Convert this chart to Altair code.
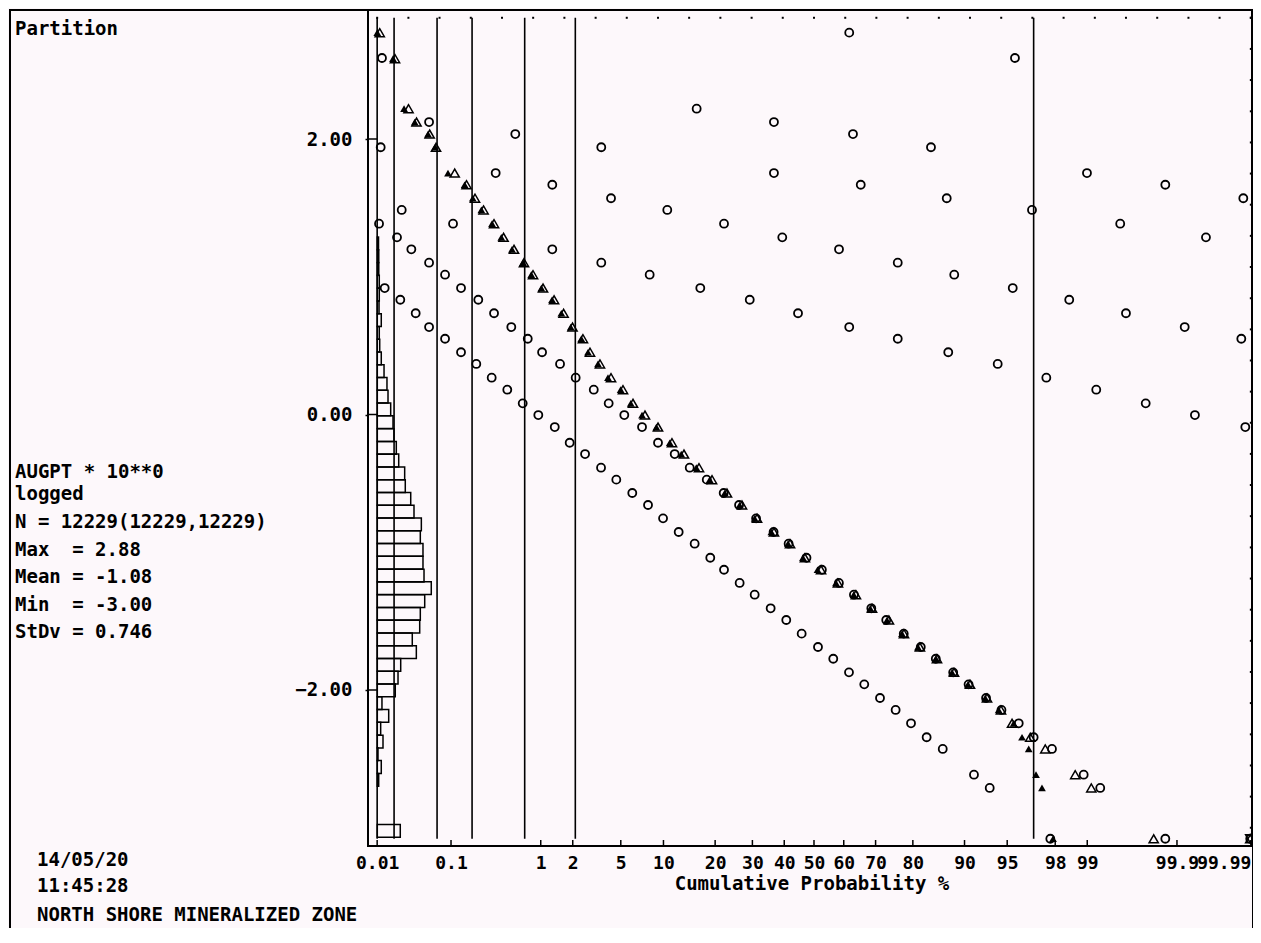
import altair as alt
import pandas as pd
from statistics import NormalDist

# ---------------- axis ticks ----------------
prob_ticks = [0.01, 0.1, 1, 2, 5, 10, 20, 30, 40, 50, 60, 70, 80, 90, 95, 98, 99, 99.9, 99.99]
prob_labels = ["0.01", "0.1", "1", "2", "5", "10", "20", "30", "40", "50", "60", "70",
               "80", "90", "95", "98", "99", "99.9", "99.99"]
y_ticks = [-2.0, 0.0, 2.0]

# x is the normal score of the cumulative probability, y the logged value
# ---------------- observed cumulative curve (filled triangles) ----------------
obs_z = [-3.718, -3.584, -3.490, -3.399, -3.286, -3.226, -3.116, -2.974, -2.905, -2.832,
         -2.741, -2.662, -2.571, -2.477, -2.407, -2.321, -2.230, -2.151, -2.071, -1.981,
         -1.924, -1.839, -1.754, -1.646, -1.560, -1.464, -1.342, -1.228, -1.130, -1.002,
         -0.888, -0.760, -0.633, -0.505, -0.363, -0.221, -0.094, 0.030, 0.187, 0.338,
         0.479, 0.621, 0.749, 0.885, 1.039, 1.175, 1.311, 1.458, 1.572, 1.700,
         1.771, 1.828, 1.890, 1.941, 2.035]
obs_v = [2.772, 2.583, 2.220, 2.123, 2.036, 1.940, 1.753, 1.668, 1.570, 1.485,
         1.385, 1.286, 1.199, 1.102, 1.015, 0.918, 0.833, 0.735, 0.635, 0.550,
         0.452, 0.367, 0.267, 0.180, 0.081, -0.004, -0.091, -0.205, -0.287, -0.386,
         -0.473, -0.570, -0.657, -0.754, -0.853, -0.938, -1.040, -1.127, -1.223, -1.308,
         -1.407, -1.492, -1.591, -1.688, -1.773, -1.872, -1.959, -2.058, -2.145, -2.242,
         -2.343, -2.428, -2.615, -2.711, -3.080]

# ---------------- fitted mixture curve (open triangles) ----------------
model_z = [-3.697, -3.567, -3.452, -3.384, -3.272, -3.218, -3.059, -2.958, -2.886, -2.813,
           -2.724, -2.643, -2.554, -2.469, -2.392, -2.307, -2.213, -2.132, -2.056, -1.967,
           -1.907, -1.822, -1.728, -1.626, -1.541, -1.439, -1.328, -1.209, -1.107, -0.979,
           -0.868, -0.741, -0.613, -0.485, -0.341, -0.204, -0.077, 0.060, 0.204, 0.357,
           0.494, 0.638, 0.766, 0.902, 1.047, 1.192, 1.328, 1.473, 1.592, 1.686,
           1.841, 1.969, 2.224, 2.361, 2.892]
model_v = obs_v

# ---------------- partition populations (open circles) ----------------
popA_z = [-3.655, -3.522, -3.391, -3.277, -3.141, -3.005, -2.875, -2.744, -2.611, -2.480,
          -2.347, -2.207, -2.080, -1.949, -1.813, -1.683, -1.547, -1.413, -1.285, -1.152,
          -1.016, -0.883, -0.766, -0.633, -0.505, -0.369, -0.236, -0.105, 0.034, 0.164,
          0.298, 0.428, 0.562, 0.695, 0.826, 0.959, 1.096, 1.362, 1.496, 2.012]
popA_v = [0.918, 0.833, 0.735, 0.635, 0.550, 0.452, 0.367, 0.267, 0.180, 0.081,
          -0.004, -0.091, -0.205, -0.287, -0.386, -0.473, -0.570, -0.657, -0.754, -0.853,
          -0.938, -1.040, -1.127, -1.223, -1.308, -1.407, -1.492, -1.591, -1.688, -1.773,
          -1.872, -1.959, -2.058, -2.145, -2.242, -2.343, -2.428, -2.615, -2.711, -3.080]
popB_z = [-3.703, -3.550, -3.428, -3.277, -3.141, -3.005, -2.858, -2.724, -2.577, -2.437,
          -2.315, -2.162, -2.029, -1.875, -1.748, -1.615, -1.464, -1.328, -1.186, -1.058,
          -0.913, -0.769, -0.638, -0.493, -0.344, -0.216, -0.064, 0.067, 0.212, 0.340,
          0.488, 0.615, 0.764, 0.909, 1.037, 1.185, 1.316, 1.465, 1.596, 1.743,
          1.870, 2.026, 2.296, 2.437, 2.991]
popB_v = [1.385, 1.286, 1.199, 1.102, 1.015, 0.918, 0.833, 0.735, 0.635, 0.550,
          0.452, 0.367, 0.267, 0.180, 0.081, -0.004, -0.091, -0.205, -0.287, -0.386,
          -0.473, -0.570, -0.657, -0.754, -0.853, -0.938, -1.040, -1.127, -1.223, -1.308,
          -1.407, -1.492, -1.591, -1.688, -1.773, -1.872, -1.959, -2.058, -2.145, -2.242,
          -2.343, -2.428, -2.615, -2.711, -3.080]
popC_z = [-3.689, -2.710, -2.228, -1.728, -1.249, -0.766, -0.270, 0.213, 0.713, 1.194,
          1.692, 2.173, 2.656, 3.156, 3.638]
popC_v = [1.940, 1.753, 1.668, 1.570, 1.485, 1.385, 1.286, 1.199, 1.102, 1.015,
          0.918, 0.833, 0.735, 0.635, 0.550]
popD_z = [-3.510, -3.073, -2.228, -1.811, -1.399, -0.968, -0.547, -0.136, 0.300, 0.713,
          1.143, 1.564, 1.978, 2.403, 2.824, 3.243, 3.672]
popD_v = [1.485, 1.385, 1.199, 1.102, 1.015, 0.918, 0.833, 0.735, 0.635, 0.550,
          0.452, 0.367, 0.267, 0.180, 0.081, -0.004, -0.091]
popE_z = [-3.277, -2.543, -1.811, -0.341, 0.398, 1.130, 1.856, 2.607, 3.337]
popE_v = [2.123, 2.036, 1.940, 1.753, 1.668, 1.570, 1.485, 1.385, 1.286]
popF_z = [-0.999, -0.341, 0.332, 0.996, 2.324, 2.991, 3.655]
popF_v = [2.220, 2.123, 2.036, 1.940, 1.753, 1.668, 1.570]
popG_z = [0.300, 1.711, -3.678, 3.714]
popG_v = [2.772, 2.588, 2.588, -3.080]

star_z = [3.714]
star_v = [-3.080]

# ---------------- partition thresholds (vertical lines) ----------------
partition_z = [-3.719, -3.575, -3.209, -2.911, -2.463, -2.032, 1.870]
line_top = 2.88
line_bottom = -3.08

# ---------------- histogram (frequency %) ----------------
hist_center = [1.242, 1.149, 1.056, 0.964, 0.871, 0.778, 0.685, 0.593, 0.500, 0.407,
               0.315, 0.222, 0.129, 0.037, -0.056, -0.149, -0.242, -0.334, -0.427, -0.520,
               -0.612, -0.705, -0.798, -0.891, -0.983, -1.076, -1.169, -1.261, -1.354, -1.447,
               -1.539, -1.632, -1.725, -1.818, -1.910, -2.003, -2.096, -2.188, -2.281, -2.374,
               -2.466, -2.559, -2.652, -3.023]
hist_freq = [0.14, 0.17, 0.17, 0.23, 0.23, 0.20, 0.46, 0.23, 0.28, 0.46,
             0.78, 1.12, 1.24, 1.55, 1.82, 1.93, 2.20, 2.48, 3.17, 3.24,
             3.87, 4.25, 5.10, 4.98, 5.29, 5.29, 5.41, 6.25, 5.49, 4.98,
             4.91, 4.05, 4.52, 2.71, 2.40, 2.08, 0.54, 1.32, 0.39, 0.66,
             0.08, 0.46, 0.16, 2.66]
HIST_BIN = 0.0927

# ---------------- grid markers along the top and right edges ----------------
grid_top_z = [-3.719, -3.453, -3.188, -2.922, -2.656, -2.391, -2.125, -1.859, -1.594, -1.328,
              -1.063, -0.797, -0.531, -0.266, 0.0, 0.266, 0.531, 0.797, 1.063, 1.328,
              1.594, 1.859, 2.125, 2.391, 2.656, 2.922, 3.188, 3.453, 3.719]
grid_right_v = [2.880, 2.654, 2.428, 2.201, 1.975, 1.749, 1.523, 1.297, 1.071, 0.844,
                0.618, 0.392, 0.166, -0.060, -0.286, -0.512, -0.738, -0.965, -1.191, -1.417,
                -1.643, -1.869, -2.095, -2.322, -2.548, -2.774, -3.000]

# ---------------- texts ----------------
title_text = ["Partition"]
var_text = ["AUGPT * 10**0", "logged"]
stats_text = ["N = 12229(12229,12229)", "Max \u00a0= 2.88", "Mean = -1.08",
              "Min \u00a0= -3.00", "StDv = 0.746"]
date_text = ["14/05/20", "11:45:28"]
zone_text = ["NORTH SHORE MINERALIZED ZONE"]
x_title = ["Cumulative Probability %"]

# ---------------- layout ----------------
W, H = 884, 836
FONT = "DejaVu Sans Mono"
FS = 19
FS_TICK = 18
BG = "#fdf8fb"

tick_z = [NormalDist().inv_cdf(p / 100.0) for p in prob_ticks]
xs = alt.Scale(domain=[-3.797, 3.729], nice=False, zero=False)
ys = alt.Scale(domain=[-3.1325, 2.9365], nice=False, zero=False)

label_expr = ""
for i in range(len(tick_z) - 1):
    mid = (tick_z[i] + tick_z[i + 1]) / 2
    label_expr += f"datum.value < {mid:.4f} ? '{prob_labels[i]}' : "
label_expr += f"'{prob_labels[-1]}'"

x_axis = alt.Axis(values=tick_z, labelExpr=label_expr, ticks=False, tickSize=0, domain=False,
                  grid=False, labelFont=FONT, labelFontSize=FS_TICK, labelFontWeight="bold",
                  labelColor="black", labelPadding=8, labelFlush=6, labelOverlap=False, title=None)
y_axis = alt.Axis(values=y_ticks, format=".2f", ticks=True, tickSize=3, tickColor="black",
                  tickWidth=1.5, domain=False, grid=False, labelFont=FONT, labelFontSize=FS,
                  labelFontWeight="bold", labelColor="black", labelPadding=13, title=None)

one = pd.DataFrame({"a": [0]})

part_df = pd.DataFrame({"z": partition_z, "top": line_top, "bot": line_bottom})
lines = alt.Chart(part_df).mark_rule(color="black", strokeWidth=1.6).encode(
    x=alt.X("z:Q", scale=xs, axis=x_axis, title=None),
    y=alt.Y("top:Q", scale=ys, axis=y_axis, title=None),
    y2="bot:Q",
)

top_dots = alt.Chart(pd.DataFrame({"z": grid_top_z, "v": line_top})).mark_square(
    size=4, color="black", opacity=1).encode(
    x=alt.X("z:Q", scale=xs), y=alt.Y("v:Q", scale=ys))
right_dots = alt.Chart(pd.DataFrame({"z": grid_top_z[-1], "v": grid_right_v})).mark_square(
    size=4, color="black", opacity=1).encode(
    x=alt.X("z:Q", scale=xs), y=alt.Y("v:Q", scale=ys))

xticks = alt.Chart(pd.DataFrame({"z": tick_z})).mark_rule(color="black", strokeWidth=1.5).encode(
    x=alt.X("z:Q", scale=xs), y=alt.value(H), y2=alt.value(H - 6))
yticks = alt.Chart(pd.DataFrame({"v": y_ticks})).mark_rule(color="black", strokeWidth=1.5).encode(
    y=alt.Y("v:Q", scale=ys), x=alt.value(0), x2=alt.value(9))

circ_df = pd.DataFrame({
    "z": popA_z + popB_z + popC_z + popD_z + popE_z + popF_z + popG_z,
    "v": popA_v + popB_v + popC_v + popD_v + popE_v + popF_v + popG_v,
})
circles = alt.Chart(circ_df).mark_point(shape="circle", filled=False, size=64, color="black",
                                        strokeWidth=1.8, opacity=1).encode(
    x=alt.X("z:Q", scale=xs), y=alt.Y("v:Q", scale=ys))

model = alt.Chart(pd.DataFrame({"z": model_z + star_z, "v": model_v + star_v})).mark_point(
    shape="triangle-up", filled=False, size=85, color="black", strokeWidth=1.5, opacity=1).encode(
    x=alt.X("z:Q", scale=xs), y=alt.Y("v:Q", scale=ys))
star = alt.Chart(pd.DataFrame({"z": star_z, "v": star_v})).mark_point(
    shape="triangle-down", filled=False, size=85, color="black", strokeWidth=1.5, opacity=1).encode(
    x=alt.X("z:Q", scale=xs), y=alt.Y("v:Q", scale=ys))
observed = alt.Chart(pd.DataFrame({"z": obs_z, "v": obs_v})).mark_point(
    shape="triangle-up", filled=True, size=60, color="black", opacity=1).encode(
    x=alt.X("z:Q", scale=xs), y=alt.Y("v:Q", scale=ys))

txt = dict(font=FONT, fontSize=FS, fontWeight="bold", color="black", baseline="alphabetic")
t_title = alt.Chart(one).mark_text(align="left", **txt).encode(
    x=alt.value(-353), y=alt.value(25), text=alt.value(title_text))
t_var = alt.Chart(one).mark_text(align="left", lineHeight=22, **txt).encode(
    x=alt.value(-353), y=alt.value(468), text=alt.value(var_text))
t_stats = alt.Chart(one).mark_text(align="left", lineHeight=27.5, **txt).encode(
    x=alt.value(-353), y=alt.value(518), text=alt.value(stats_text))
t_date = alt.Chart(one).mark_text(align="left", lineHeight=26, **txt).encode(
    x=alt.value(-331), y=alt.value(856), text=alt.value(date_text))
t_zone = alt.Chart(one).mark_text(align="left", **txt).encode(
    x=alt.value(-331), y=alt.value(911), text=alt.value(zone_text))
t_xtitle = alt.Chart(one).mark_text(align="center", **txt).encode(
    x=alt.value(444), y=alt.value(880), text=alt.value(x_title))

frame = alt.Chart(one).mark_rect(fillOpacity=0, stroke="black", strokeWidth=2).encode(
    x=alt.value(-358), x2=alt.value(885), y=alt.value(0), y2=alt.value(945))

inner = alt.layer(frame, lines, top_dots, right_dots, xticks, yticks, circles, model, star,
                  observed, t_title, t_var, t_stats, t_date, t_zone, t_xtitle)

hist_df = pd.DataFrame({"center": hist_center, "freq": hist_freq})
hist = alt.Chart(hist_df).transform_calculate(
    lo=f"datum.center - {HIST_BIN / 2}", hi=f"datum.center + {HIST_BIN / 2}", zero="0"
).mark_rect(fillOpacity=0, stroke="black", strokeWidth=1.5).encode(
    x=alt.X("zero:Q", scale=alt.Scale(domain=[-1.077, 101.29], nice=False, zero=False), axis=None),
    x2="freq:Q",
    y=alt.Y("lo:Q", scale=ys),
    y2="hi:Q",
)

chart = alt.layer(hist, inner).resolve_scale(x="independent").properties(
    width=W, height=H,
    padding={"left": 360, "top": 2, "right": 1, "bottom": 82},
    autosize=alt.AutoSizeParams(type="none"),
    background=BG,
).configure_view(stroke="black", strokeWidth=2)

chart.save("out.html", embed_options={"renderer": "svg", "actions": False})
